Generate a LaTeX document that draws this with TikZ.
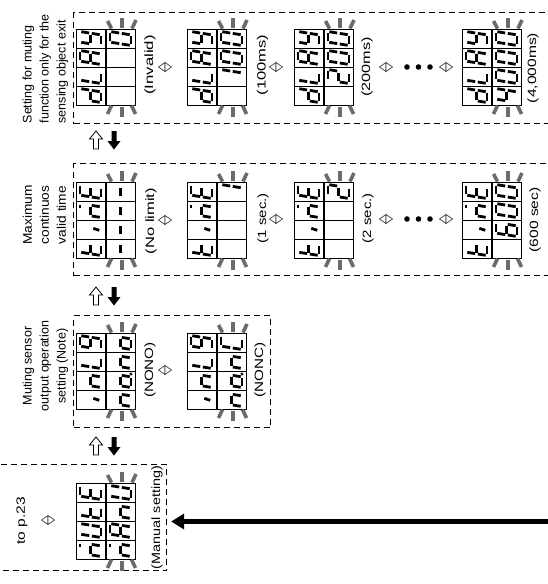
\documentclass[tikz,border=0pt]{standalone}
\usepackage{graphicx}
\usepackage{fontspec}
\setmainfont{Liberation Sans}
\usetikzlibrary{arrows.meta}
% seven-segment pieces, upright frame (y up)
\newcommand\SGa{\draw[seg] (-4.0,10.5)--(4.0,10.5);}
\newcommand\SGb{\draw[seg] (5.3,9.2)--(5.3,1.3);}
\newcommand\SGc{\draw[seg] (5.3,-1.3)--(5.3,-9.2);}
\newcommand\SGd{\draw[seg] (-4.0,-10.5)--(4.0,-10.5);}
\newcommand\SGe{\draw[seg] (-5.3,-1.3)--(-5.3,-9.2);}
\newcommand\SGf{\draw[seg] (-5.3,9.2)--(-5.3,1.3);}
\newcommand\SGg{\draw[seg] (-4.0,0)--(4.0,0);}
\newcommand\SGh{\draw[seg] (0.8,10.5)--(4.0,10.5);}
\newcommand\SGj{\draw[seg] (1.6,-2.8)--(0.6,-8.8);}
\newcommand\SGp{\fill (8.2,-10.5) circle (1.6);}
\newcommand\ch[3]{\begin{scope}[shift={(#1,#2)},rotate=90,y=1pt,xslant=0.16]
  \foreach \s in {#3}{\csname SG\s\endcsname}\end{scope}}
% one column of 4 cells: cx, y0, bottom ... top
\newcommand\col[6]{\ch{#1}{#2+66.5}{#3}\ch{#1}{#2+47.5}{#4}\ch{#1}{#2+28.5}{#5}\ch{#1}{#2+9.5}{#6}}
% frame of a display with flashing marks
\newcommand\dispframe[2]{%
  \draw[grid] (#1,#2) rectangle (#1+29,#2+76);
  \draw[grid] (#1+30,#2) rectangle (#1+59,#2+76);
  \foreach \k in {19,38,57}{\draw[grid] (#1,#2+\k) -- (#1+29,#2+\k);
    \draw[grid] (#1+30,#2+\k) -- (#1+59,#2+\k);}
  \draw[flash] (#1+46,#2-11) -- (#1+46,#2-1.5);
  \draw[flash] (#1+31.5,#2-8) -- (#1+35.5,#2-0.5);
  \draw[flash] (#1+60,#2-9) -- (#1+56,#2-0.5);
  \draw[flash] (#1+46,#2+77.5) -- (#1+46,#2+88);
  \draw[flash] (#1+35.5,#2+76.5) -- (#1+31.5,#2+85);
  \draw[flash] (#1+55.5,#2+76.5) -- (#1+59.5,#2+85);}
% small hollow double triangle
\newcommand\swap[2]{%
  \draw[swapsym] (#1,#2-4.5) -- (#1,#2+4.5) -- (#1-6.5,#2) -- cycle;
  \draw[swapsym] (#1,#2-4.5) -- (#1,#2+4.5) -- (#1+6.5,#2) -- cycle;}
% hollow up arrow + filled down arrow, t = top
\newcommand\updown[1]{%
  \draw[line width=0.8pt,fill=white] (96,#1) -- (102.5,#1+8) -- (98.5,#1+8) -- (98.5,#1+18)
    -- (93.5,#1+18) -- (93.5,#1+8) -- (89.5,#1+8) -- cycle;
  \fill (111.5,#1) -- (116.5,#1) -- (116.5,#1+10) -- (120.5,#1+10) -- (114,#1+18.5)
    -- (107.5,#1+10) -- (111.5,#1+10) -- cycle;}
\newcommand\threedots[2]{\fill (#1,#2) circle (2.8) (#1+11.5,#2) circle (2.8) (#1+23,#2) circle (2.8);}
\newcommand\wide[2]{\scalebox{#1}[1]{#2}}
\begin{document}
\begin{tikzpicture}[x=1pt,y=-1pt,
  lbl/.style={rotate=90, font=\fontsize{12.5}{17}\selectfont, inner sep=0pt},
  paren/.style={rotate=90, font=\fontsize{12}{14}\selectfont, inner sep=0pt},
  panelbox/.style={draw, dash pattern=on 6pt off 4pt, line width=1.1pt, rectangle,
    inner sep=0pt, anchor=north west},
  seg/.style={line width=2.8pt},
  grid/.style={line width=0.9pt},
  flash/.style={line width=3.6pt, color=black!58},
  swapsym/.style={line width=0.7pt, draw=black!75, fill=white, line join=miter},
  bigarrow/.style={line width=5pt, -{Triangle[length=13pt,width=15pt]}}]
\useasboundingbox (0,0) rectangle (547,584);
% ---------- panels
\node[panelbox, minimum width=490pt, minimum height=111pt] (p1) at (73,12) {};
\node[panelbox, minimum width=490pt, minimum height=112pt] (p2) at (73,163) {};
\node[panelbox, minimum width=197pt, minimum height=112pt] (p3) at (73,315) {};
\node[panelbox, minimum width=174pt, minimum height=106pt] (p4) at (-8,464) {};
% ---------- row 1
\node[lbl, align=left, anchor=west] (t1) at (45.5,123.5) {Setting for muting\\function only for the\\sensing object exit};
\dispframe{76}{29}
\col{90.5}{29}{b,c,d,e,g}{d,e,f}{a,b,c,e,f,g}{b,c,d,f,g}
\col{120.5}{29}{}{}{}{a,b,c,d,e,f}
\node[paren] (v1a) at (150,65) {\wide{1.4}{(Invalid)}};
\swap{165}{67}
\dispframe{187}{29}
\col{201.5}{29}{b,c,d,e,g}{d,e,f}{a,b,c,e,f,g}{b,c,d,f,g}
\col{231.5}{29}{}{b,c}{a,b,c,d,e,f}{a,b,c,d,e,f}
\node[paren] (v1b) at (262.5,65) {\wide{1.38}{(100ms)}};
\swap{276}{67}
\dispframe{294}{29}
\col{308.5}{29}{b,c,d,e,g}{d,e,f}{a,b,c,e,f,g}{b,c,d,f,g}
\col{338.5}{29}{}{a,b,d,e,g}{a,b,c,d,e,f}{a,b,c,d,e,f}
\node[paren] (v1c) at (367,67) {\wide{1.35}{(200ms)}};
\swap{386}{67}
\threedots{407}{67}
\swap{446}{67}
\dispframe{462}{29}
\col{476.5}{29}{b,c,d,e,g}{d,e,f}{a,b,c,e,f,g}{b,c,d,f,g}
\col{506.5}{29}{b,c,f,g}{a,b,c,d,e,f}{a,b,c,d,e,f}{a,b,c,d,e,f}
\node[paren] (v1d) at (533,68) {\wide{1.3}{(4,000ms)}};
\updown{131}
% ---------- row 2
\node[lbl] (t2) at (45.5,215) {\wide{1.1}{\begin{tabular}{@{}c@{}}Maximum\\continuos\\valid time\end{tabular}}};
\dispframe{76}{182}
\col{90.5}{182}{d,e,f,g}{j}{c,e,g,h}{a,d,e,f,g}
\col{120.5}{182}{g}{g}{g}{g}
\node[paren] (v2a) at (151,221) {\wide{1.38}{(No limit)}};
\swap{165}{220}
\dispframe{187}{182}
\col{201.5}{182}{d,e,f,g}{j}{c,e,g,h}{a,d,e,f,g}
\col{231.5}{182}{}{}{}{b,c}
\node[paren] (v2b) at (263,218) {\wide{1.25}{(1 sec.)}};
\swap{276}{219}
\dispframe{294}{182}
\col{308.5}{182}{d,e,f,g}{j}{c,e,g,h}{a,d,e,f,g}
\col{338.5}{182}{}{}{}{a,b,d,e,g}
\node[paren] (v2c) at (368,218) {\wide{1.25}{(2 sec.)}};
\swap{386}{219}
\threedots{407}{219}
\swap{446}{219}
\dispframe{462}{182}
\col{476.5}{182}{d,e,f,g}{j}{c,e,g,h}{a,d,e,f,g}
\col{506.5}{182}{}{a,c,d,e,f,g}{a,b,c,d,e,f}{a,b,c,d,e,f}
\node[paren] (v2d) at (535,220) {\wide{1.3}{(600 sec)}};
\updown{287}
% ---------- row 3
\node[lbl, align=center] (t3) at (45.5,366) {Muting sensor\\output operation\\setting (Note)};
\dispframe{76}{333}
\col{90.5}{333}{j}{c,e,g}{d,e,f}{a,b,c,d,f,g}
\col{120.5}{333}{c,e,g}{c,d,e,g,p}{c,e,g}{c,d,e,g}
\node[paren] (v3a) at (150,370) {\wide{1.27}{(NONO)}};
\swap{165}{370}
\dispframe{187}{333}
\col{201.5}{333}{j}{c,e,g}{d,e,f}{a,b,c,d,f,g}
\col{231.5}{333}{c,e,g}{c,d,e,g,p}{c,e,g}{a,d,e,f}
\node[paren] (v3b) at (260,370) {\wide{1.27}{(NONC)}};
\updown{437}
% ---------- row 4
\node[paren] (t4) at (22,521) {\wide{1.3}{to p.23}};
\swap{48}{520}
\dispframe{76}{483}
\col{90.5}{483}{c,e,g,h}{b,c,d,e,f}{d,e,f,g}{a,d,e,f,g}
\col{120.5}{483}{c,e,g,h}{a,b,c,e,f,g}{c,e,g}{b,c,d,e,f}
\node[paren] (v4) at (157,517.5) {\wide{1.2}{(Manual setting)}};
\coordinate (src) at (560,521.5);
\draw[bigarrow, shorten >=4pt] (src) -- (p4.east |- src);
\end{tikzpicture}
\end{document}
